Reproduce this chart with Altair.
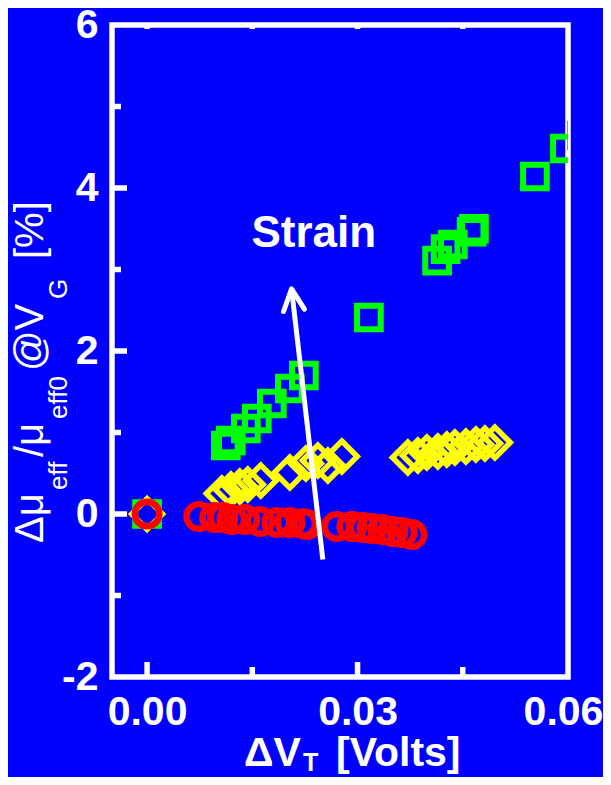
import altair as alt
import pandas as pd

# ---------------- data ----------------
sq_x = [0.0, 0.01122, 0.01194, 0.01408, 0.01564, 0.01778, 0.02035, 0.02235,
        0.03162, 0.04134, 0.04255, 0.04359, 0.04626, 0.04659,
        0.05528, 0.05956, 0.06197]
sq_y = [0.0, 0.840, 0.902, 1.049, 1.172, 1.356, 1.540, 1.699,
        2.411, 3.108, 3.249, 3.307, 3.463, 3.500,
        4.141, 4.485, 4.644]

dia_x = [0.0, 0.01065, 0.01194, 0.01322, 0.01436, 0.01621, 0.02035, 0.02263,
         0.02434, 0.02577, 0.02776,
         0.03717, 0.03860, 0.03988, 0.04145, 0.04273, 0.04388, 0.04545,
         0.04687, 0.04816, 0.04958]
dia_y = [0.0, 0.252, 0.301, 0.337, 0.362, 0.411, 0.509, 0.620,
         0.656, 0.595, 0.706,
         0.693, 0.718, 0.755, 0.767, 0.791, 0.816, 0.828,
         0.853, 0.865, 0.877]

cir_x = [0.0, 0.00737, 0.00965, 0.01079, 0.01208, 0.01393, 0.01607, 0.01849,
         0.02035, 0.02220, 0.02277, 0.02705, 0.02919, 0.03076, 0.03204,
         0.03361, 0.03504, 0.03632, 0.03774]
cir_y = [0.0, -0.031, -0.043, -0.043, -0.067, -0.067, -0.092, -0.104,
         -0.104, -0.117, -0.129, -0.153, -0.153, -0.166, -0.178,
         -0.190, -0.215, -0.227, -0.252]

arrow_x = [0.02505, 0.02059]   # tail, tip
arrow_y = [-0.558, 2.763]
arrow_label = "Strain"
label_x = [0.02377]
label_y = [3.270]

x_tick_labels = [0.0, 0.03, 0.06]
y_tick_labels = [-2, 0, 2, 4, 6]
x_ticks_major = [0.0, 0.03]
x_ticks_minor = [0.015, 0.045]
x_ticks_top = [0.0, 0.015, 0.03, 0.045]
y_ticks_major = [0, 2, 4]
y_ticks_minor = [-1, 1, 3, 5]

# ---------------- styling ----------------
FONT = "Liberation Sans"
BLUE = "#0000FF"
W, H = 456, 652

# unit-shape paths (scaled by sqrt(size)/2)
SQUARE = "M-1,-1L1,-1L1,1L-1,1Z"
DIAMOND = "M0,-1L1,0L0,1L-1,0Z"
CIRCLE = "M1,0A1,1,0,1,1,-1,0A1,1,0,1,1,1,0Z"

xs = alt.Scale(domain=[-0.005, 0.06], nice=False, zero=False)
ys = alt.Scale(domain=[-2, 6], nice=False, zero=False)

xaxis = alt.Axis(values=x_tick_labels, format=".2f", title=None, ticks=False,
                 domain=False, grid=False, labelFont=FONT, labelFontSize=41,
                 labelFontWeight="bold", labelColor="white", labelPadding=15,
                 labelFlush=False, labelOverlap=False,
                 labelOffset={"condition": {"test": "datum.value > 0.05", "value": -5},
                              "value": 0})
yaxis = alt.Axis(values=y_tick_labels, format="d", title=None, ticks=False,
                 domain=False, grid=False, labelFont=FONT, labelFontSize=41,
                 labelFontWeight="bold", labelColor="white", labelPadding=14,
                 labelFlush=False, labelOverlap=False,
                 labelExpr="replace(datum.label, '\u2212', '-')")

df_sq = pd.DataFrame({"x": sq_x, "y": sq_y})
df_dia = pd.DataFrame({"x": dia_x, "y": dia_y})
df_cir = pd.DataFrame({"x": cir_x, "y": cir_y})

squares = alt.Chart(df_sq).mark_point(
    shape=SQUARE, size=560, filled=False, color="#00FF00", strokeWidth=6,
    opacity=1, clip=True
).encode(x=alt.X("x:Q", scale=xs, axis=xaxis), y=alt.Y("y:Q", scale=ys, axis=yaxis))

diamonds = alt.Chart(df_dia).mark_point(
    shape=DIAMOND, size=950, filled=False, color="#FFFF00", strokeWidth=5.5,
    opacity=1, clip=True
).encode(x=alt.X("x:Q", scale=xs), y=alt.Y("y:Q", scale=ys))

circles = alt.Chart(df_cir).mark_point(
    shape=CIRCLE, size=600, filled=False, color="#FF0000", strokeWidth=6.5,
    opacity=1, clip=True
).encode(x=alt.X("x:Q", scale=xs), y=alt.Y("y:Q", scale=ys))

df_arrow = pd.DataFrame({"x": [arrow_x[0]], "y": [arrow_y[0]],
                         "x2": [arrow_x[1]], "y2": [arrow_y[1]]})
shaft = alt.Chart(df_arrow).mark_rule(color="white", strokeWidth=5).encode(
    x=alt.X("x:Q", scale=xs), y=alt.Y("y:Q", scale=ys), x2="x2:Q", y2="y2:Q")

df_tip = pd.DataFrame({"x": [arrow_x[1]], "y": [arrow_y[1]]})
head = alt.Chart(df_tip).mark_point(
    shape="M-0.486,1L0,0L0.486,1", size=1866, filled=False, color="white",
    strokeWidth=5, opacity=1, angle=353.5, strokeJoin="round", strokeCap="round"
).encode(x=alt.X("x:Q", scale=xs), y=alt.Y("y:Q", scale=ys))

df_lab = pd.DataFrame({"x": label_x, "y": label_y, "t": [arrow_label]})
strain = alt.Chart(df_lab).mark_text(
    font=FONT, fontSize=44, fontWeight="bold", color="white", align="center",
    baseline="alphabetic"
).encode(x=alt.X("x:Q", scale=xs), y=alt.Y("y:Q", scale=ys), text="t:N")

# inward ticks
def hticks(vals, length):
    return alt.Chart(pd.DataFrame({"v": vals})).mark_rule(
        color="white", strokeWidth=5.5).encode(
        y=alt.Y("v:Q", scale=ys), x=alt.value(0), x2=alt.value(length))

def vticks(vals, y0, y1):
    return alt.Chart(pd.DataFrame({"v": vals})).mark_rule(
        color="white", strokeWidth=5.5).encode(
        x=alt.X("v:Q", scale=xs), y=alt.value(y0), y2=alt.value(y1))

ticks = [hticks(y_ticks_major, 15), hticks(y_ticks_minor, 9),
         vticks(x_ticks_major, H, H - 15), vticks(x_ticks_minor, H, H - 10),
         vticks(x_ticks_top, 0, 4)]

# axis titles built from text pieces (for subscripts)
one = pd.DataFrame({"a": [0]})

def piece(txt, px, py, size, bold=False, angle=0):
    kw = dict(text=txt, font=FONT, fontSize=size, color="white", align="left",
              baseline="alphabetic", fontWeight="bold" if bold else "normal")
    if angle:
        kw["angle"] = angle
    return alt.Chart(one).mark_text(**kw).encode(x=alt.value(px), y=alt.value(py))

xtitle = [piece("\u0394V", 132, 741, 41, True),
          piece("T", 191, 746, 25, True),
          piece("[Volts]", 224, 741, 41, True)]

BIG, SUB = 40, 26
BX, SX = -69, -45
ytitle = [piece("\u0394\u03bc", BX, 518, BIG, angle=270),
          piece("eff", SX, 465, SUB, angle=270),
          piece("/\u03bc", BX, 432, BIG, angle=270),
          piece("eff0", SX, 394, SUB, angle=270),
          piece("@V", BX, 346, BIG, angle=270),
          piece("G", SX, 274, SUB, angle=270),
          piece("[%]", BX, 234, BIG, angle=270)]

chart = alt.layer(
    squares, diamonds, circles, *ticks, shaft, head, strain, *xtitle, *ytitle
).properties(
    width=W, height=H,
    autosize=alt.AutoSizeParams(type="none"),
    padding={"left": 104, "top": 17, "right": 35, "bottom": 100},
    background=BLUE,
).configure_view(stroke="white", strokeWidth=5.5, fill=BLUE)

chart.save("out.html", embed_options={"renderer": "svg", "actions": False})
